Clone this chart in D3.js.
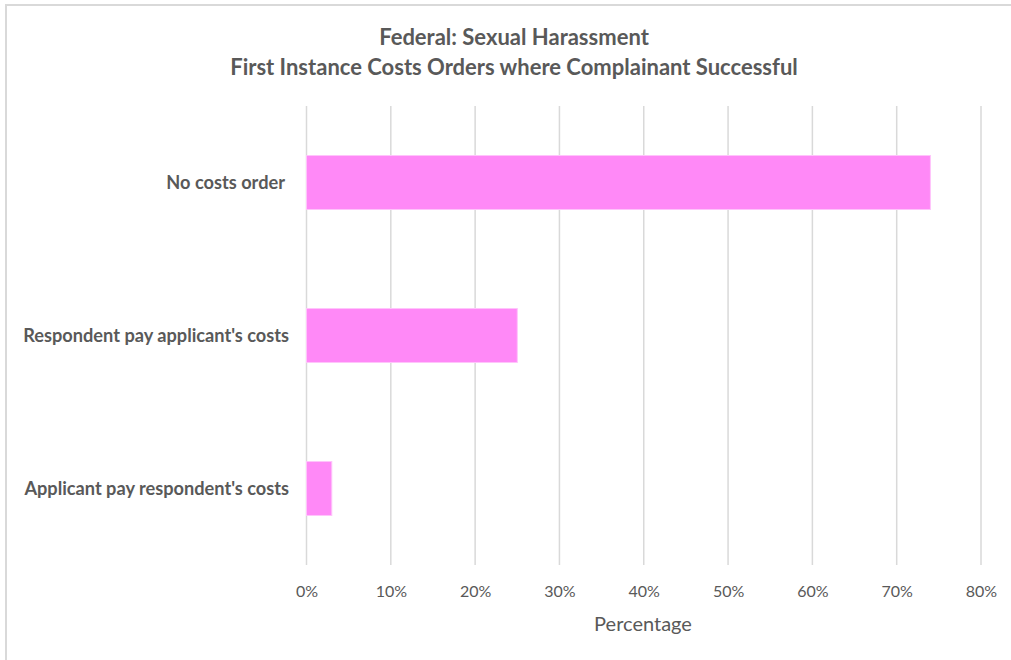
<!DOCTYPE html>
<html>
<head>
<meta charset="utf-8">
<script src="https://cdn.jsdelivr.net/npm/d3@7"></script>
<style>
  html, body { margin: 0; padding: 0; background: #fff; }
  svg { display: block; }
  text { font-family: Lato, "Open Sans", sans-serif; }
  .cat-label { white-space: pre; }
</style>
</head>
<body>
<svg id="chart" width="1011" height="660"></svg>
<script>
// Chart data
const categories = ["No costs order ", "Respondent pay applicant's costs", "Applicant pay respondent's costs"];
const percentages = [74, 25, 3];
const tickValues = [0, 10, 20, 30, 40, 50, 60, 70, 80];
const titleLines = ["Federal: Sexual Harassment", "First Instance Costs Orders where Complainant Successful"];
const axisTitle = "Percentage";

const svg = d3.select("#chart");
const W = 1011, H = 660;
const margin = { left: 306.5, right: 30, top: 106, bottom: 95 };

// Outer chart frame
svg.append("rect")
  .attr("x", 6).attr("y", 5)
  .attr("width", W + 10).attr("height", H + 10)
  .attr("fill", "#fff")
  .attr("stroke", "#d9d9d9")
  .attr("stroke-width", 2);

const x = d3.scaleLinear().domain([0, 80]).range([margin.left, 981]);
const y = d3.scaleBand().domain(categories).range([margin.top, H - margin.bottom]).paddingInner(0.647).paddingOuter(0.3235);

// Vertical gridlines
svg.append("g")
  .selectAll("line")
  .data(tickValues)
  .join("line")
  .attr("x1", d => x(d)).attr("x2", d => x(d))
  .attr("y1", margin.top).attr("y2", H - margin.bottom)
  .attr("stroke", "#d9d9d9")
  .attr("stroke-width", 1.5);

// Bars
svg.append("g")
  .selectAll("rect")
  .data(categories)
  .join("rect")
  .attr("x", x(0))
  .attr("y", d => y(d))
  .attr("width", (d, i) => x(percentages[i]) - x(0))
  .attr("height", y.bandwidth())
  .attr("fill", "#ff89f7")
  .attr("stroke", "#ffc4fb")
  .attr("stroke-width", 1);

// Category labels
svg.append("g")
  .selectAll("text")
  .data(categories)
  .join("text")
  .attr("class", "cat-label")
  .attr("x", 289)
  .attr("y", d => y(d) + y.bandwidth() / 2)
  .attr("dy", "0.35em")
  .attr("text-anchor", "end")
  .attr("font-size", 18.2)
  .attr("font-weight", "bold")
  .attr("fill", "#595959")
  .text(d => d);

// X axis tick labels
const xAxis = d3.axisBottom(x).tickValues(tickValues).tickFormat(d => d + "%").tickSize(0).tickPadding(21);
const gx = svg.append("g").attr("transform", `translate(0,${H - margin.bottom})`).call(xAxis);
gx.select(".domain").remove();
gx.selectAll("text")
  .attr("font-family", "Lato, 'Open Sans', sans-serif")
  .attr("font-size", 16)
  .attr("fill", "#595959");

// Axis title
svg.append("text")
  .attr("x", 643).attr("y", 631)
  .attr("text-anchor", "middle")
  .attr("font-size", 20)
  .attr("fill", "#595959")
  .text(axisTitle);

// Chart title
svg.append("g")
  .selectAll("text")
  .data(titleLines)
  .join("text")
  .attr("x", 514)
  .attr("y", (d, i) => 45 + i * 30)
  .attr("text-anchor", "middle")
  .attr("font-size", 22)
  .attr("font-weight", "bold")
  .attr("fill", "#595959")
  .text(d => d);
</script>
</body>
</html>
